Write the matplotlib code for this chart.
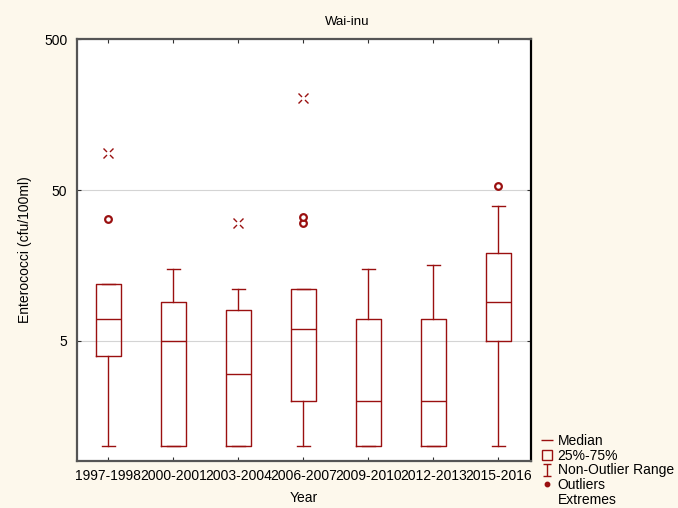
import matplotlib
matplotlib.use("Agg")
import matplotlib.pyplot as plt
from matplotlib.path import Path
from matplotlib.lines import Line2D
from matplotlib.ticker import FixedLocator, NullLocator, FixedFormatter

plt.rcParams["font.family"] = ["Liberation Sans", "DejaVu Sans"]

# data
years = ["1997-1998", "2000-2001", "2003-2004", "2006-2007",
         "2009-2010", "2012-2013", "2015-2016"]
whislo = [1, 1, 1, 1, 1, 1, 1]
q1 = [4, 1, 1, 2, 1, 1, 5]
med = [7, 5, 3, 6, 2, 2, 9]
q3 = [12, 9, 8, 11, 7, 7, 19]
whishi = [12, 15, 11, 11, 15, 16, 39]
outliers = [[32], [], [], [30, 33], [], [], [53]]
extremes = [[88], [], [30], [205], [], [], []]

red = "#9a1010"
bg = "#fdf8ec"

fig = plt.figure(figsize=(6.78, 5.08), dpi=100, facecolor=bg)
ax = fig.add_axes([0.1136, 0.0925, 0.6696, 0.8305])
ax.set_facecolor("white")

stats = []
for i in range(len(years)):
    stats.append({"whislo": whislo[i], "q1": q1[i], "med": med[i],
                  "q3": q3[i], "whishi": whishi[i], "fliers": []})

positions = list(range(1, len(years) + 1))
ax.bxp(stats, positions=positions, widths=0.39, showfliers=False,
       boxprops=dict(color=red, linewidth=1),
       whiskerprops=dict(color=red, linewidth=1),
       capprops=dict(color=red, linewidth=1),
       medianprops=dict(color=red, linewidth=1),
       capwidths=0.2, manage_ticks=False, zorder=3)

# outliers and extremes
for p, vals in zip(positions, outliers):
    if vals:
        ax.plot([p] * len(vals), vals, linestyle="none", marker="o",
                markersize=4.8, markeredgewidth=1.6, markeredgecolor=red,
                markerfacecolor="white", zorder=4)

xverts = [(-1, -1), (-0.3, -0.3), (0.3, 0.3), (1, 1),
          (-1, 1), (-0.3, 0.3), (0.3, -0.3), (1, -1)]
xcodes = [Path.MOVETO, Path.LINETO] * 4
xmark = Path(xverts, xcodes)
for p, vals in zip(positions, extremes):
    if vals:
        ax.plot([p] * len(vals), vals, linestyle="none", marker=xmark,
                markersize=7.2, markeredgewidth=1.0, color=red,
                markerfacecolor="none", zorder=4)

ax.set_yscale("log")
ax.set_ylim(0.8, 500)
ax.set_xlim(0.52, 7.5)
ax.yaxis.set_major_locator(FixedLocator([5, 50, 500]))
ax.yaxis.set_major_formatter(FixedFormatter(["5", "50", "500"]))
ax.yaxis.set_minor_locator(NullLocator())
ax.set_xticks(positions)
ax.set_xticklabels(years)
ax.grid(axis="y", color="#d4d4d4", linewidth=0.8, zorder=0)
ax.set_axisbelow(True)

ax.tick_params(axis="x", which="major", direction="in", length=3,
               labelsize=10, pad=6, top=True, color="#303030")
ax.tick_params(axis="y", which="major", direction="in", length=3,
               labelsize=10, pad=7, right=True, color="#303030")
for side in ["left", "bottom", "top"]:
    ax.spines[side].set_linewidth(1.6)
    ax.spines[side].set_color("#555555")
ax.spines["right"].set_linewidth(1.6)
ax.spines["right"].set_color("black")

ax.set_ylabel("Enterococci (cfu/100ml)", fontsize=10)
ax.yaxis.set_label_coords(-0.10, 0.5)
ax.set_xlabel("Year", fontsize=10, va="top")
ax.xaxis.set_label_coords(0.5, -0.07)

fig.text(0.512, 1 - 22 / 508, "Wai-inu", ha="center", va="center",
         fontsize=9.5)

# legend
iverts = [(-0.3, 0.5), (0.3, 0.5), (0, 0.5), (0, -0.5), (-0.3, -0.5), (0.3, -0.5)]
icodes = [Path.MOVETO, Path.LINETO, Path.MOVETO, Path.LINETO, Path.MOVETO, Path.LINETO]
imark = Path(iverts, icodes)
handles = [
    Line2D([], [], linestyle="none", marker="_", markersize=8,
           markeredgewidth=1, color=red),
    Line2D([], [], linestyle="none", marker="s", markersize=7.5,
           markeredgewidth=1, markeredgecolor=red, markerfacecolor="none"),
    Line2D([], [], linestyle="none", marker=imark, markersize=9,
           markeredgewidth=1, color=red, markerfacecolor="none"),
    Line2D([], [], linestyle="none", marker="o", markersize=3.2, color=red),
    Line2D([], [], linestyle="none", marker=None),
]
labels = ["Median", "25%-75%", "Non-Outlier Range", "Outliers", "Extremes"]
fig.legend(handles, labels, loc="upper left",
           bbox_to_anchor=(541 / 678, 1 - 434 / 508), frameon=False,
           fontsize=10, borderpad=0, borderaxespad=0, labelspacing=0.05,
           handlelength=0.8, handletextpad=0.4)

fig.savefig("out.png", dpi=100, facecolor=bg)
